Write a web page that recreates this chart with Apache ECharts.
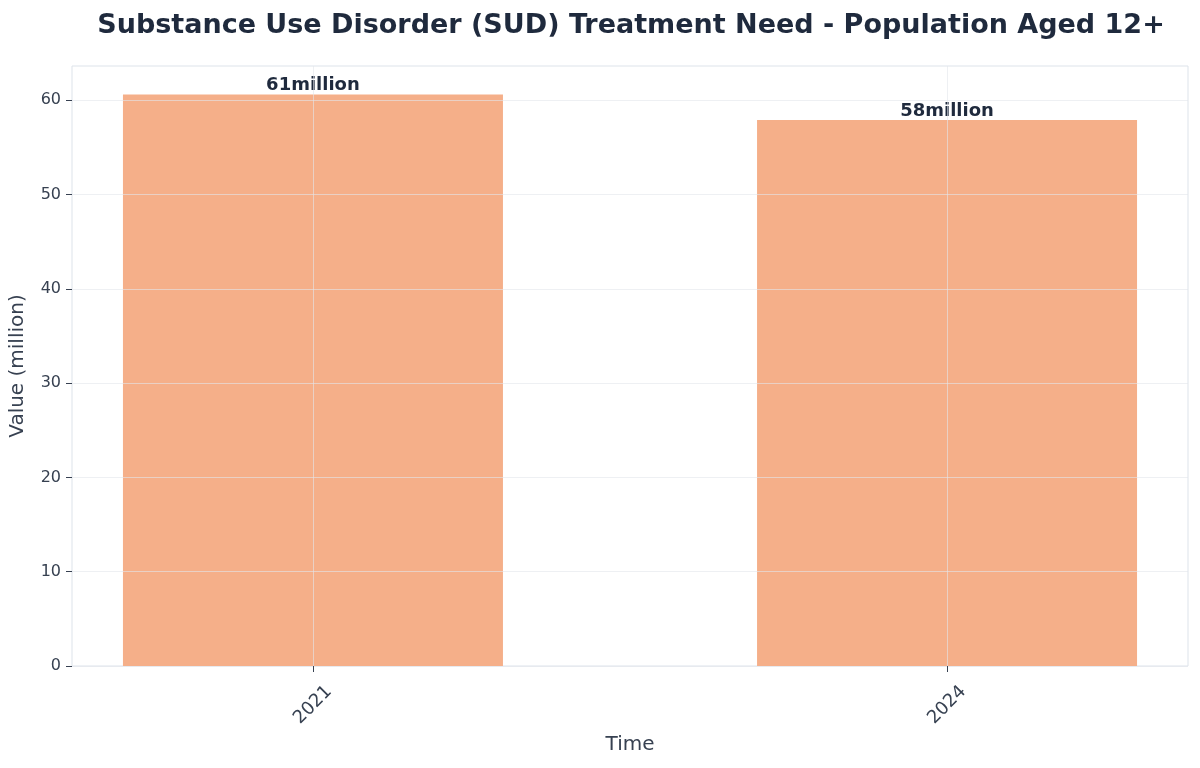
<!DOCTYPE html>
<html>
<head>
<meta charset="utf-8">
<script src="https://cdn.jsdelivr.net/npm/echarts@6/dist/echarts.min.js"></script>
<style>html,body{margin:0;padding:0;background:#fff;}#c{width:1200px;height:768px;}</style>
</head>
<body>
<div id="c"></div>
<script>
const categories = ['2021', '2024'];
const positions = [0, 1];
const values = [60.6, 57.9];
const valueLabels = ['61million', '58million'];
const yTicks = [0, 10, 20, 30, 40, 50, 60];

const chart = echarts.init(document.getElementById('c'), null, {renderer: 'canvas'});
const font = 'DejaVu Sans';
chart.setOption({
  backgroundColor: '#ffffff',
  animation: false,
  title: {
    text: 'Substance Use Disorder (SUD) Treatment Need - Population Aged 12+',
    left: 626, top: 7, textAlign: 'center',
    textStyle: {fontFamily: font, fontSize: 27, fontWeight: 'bold', color: '#1f2a3d'}
  },
  grid: {left: 72, right: 12, top: 66, bottom: 102, show: true, borderColor: '#dde3ea', borderWidth: 1, backgroundColor: 'transparent'},
  xAxis: {
    type: 'value', min: -0.38, max: 1.38, z: 5,
    name: 'Time', nameLocation: 'middle', nameGap: 68,
    nameTextStyle: {fontFamily: font, fontSize: 20, color: '#374151'},
    axisLine: {show: false, onZero: false},
    axisTick: {show: true, length: 6, lineStyle: {color: '#374151'}, customValues: positions},
    axisLabel: {
      customValues: positions, rotate: 45, margin: 39, align: 'center', verticalAlign: 'middle',
      fontFamily: font, fontSize: 18, color: '#374151',
      formatter: v => { const i = positions.indexOf(Math.round(v)); return i >= 0 ? categories[i] : ''; }
    },
    splitLine: {show: true, lineStyle: {color: 'rgba(226,230,235,0.6)', width: 1}}
  },
  yAxis: {
    type: 'value', min: 0, max: 63.63, interval: 10, z: 5,
    name: 'Value (million)', nameLocation: 'middle', nameGap: 44, nameRotate: 90,
    nameTextStyle: {fontFamily: font, fontSize: 20, color: '#374151'},
    axisLine: {show: false, onZero: false},
    axisTick: {show: true, length: 6, lineStyle: {color: '#374151'}, customValues: yTicks},
    axisLabel: {customValues: yTicks, margin: 11, fontFamily: font, fontSize: 16, color: '#374151'},
    splitLine: {show: true, lineStyle: {color: 'rgba(226,230,235,0.6)', width: 1}}
  },
  series: [{
    type: 'bar',
    data: positions.map((p, i) => [p, values[i]]),
    barWidth: 380,
    itemStyle: {color: '#F5AF89'},
    label: {
      show: true, position: 'top', distance: 0,
      fontFamily: font, fontSize: 18, fontWeight: 'bold', color: '#1f2a3d',
      formatter: p => valueLabels[p.dataIndex]
    }
  }]
});
</script>
</body>
</html>
